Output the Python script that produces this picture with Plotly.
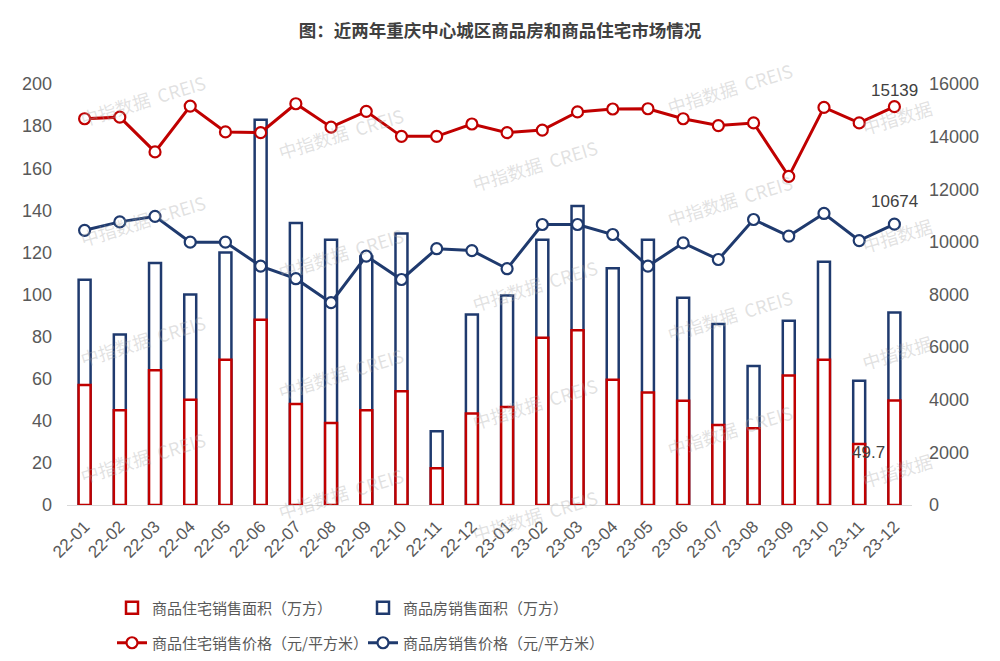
import plotly.graph_objects as go

months = ["22-01","22-02","22-03","22-04","22-05","22-06","22-07","22-08","22-09","22-10","22-11","22-12",
          "23-01","23-02","23-03","23-04","23-05","23-06","23-07","23-08","23-09","23-10","23-11","23-12"]
# 商品住宅销售面积（万方）
res_area = [57, 45, 64, 50, 69, 88, 48, 39, 45, 54, 17.5, 43.5,
            46.5, 79.5, 83, 59.5, 53.5, 49.5, 38, 36.5, 61.5, 69, 29, 49.7]
# 商品房销售面积（万方）
all_area = [107, 81, 115, 100, 120, 183, 134, 126, 118, 129, 35, 90.5,
            99.5, 126, 142, 112.5, 126, 98.5, 86, 66, 87.5, 115.5, 59, 91.5]
# 商品住宅销售价格（元/平方米）
res_price = [14680, 14740, 13420, 15160, 14180, 14150, 15250, 14360, 14960, 14010, 14010, 14480,
             14150, 14250, 14940, 15050, 15060, 14680, 14420, 14520, 12490, 15110, 14520, 15139]
# 商品房销售价格（元/平方米）
all_price = [10440, 10760, 10970, 9990, 9990, 9080, 8600, 7690, 9460, 8570, 9740, 9670,
             8980, 10660, 10660, 10280, 9080, 9960, 9330, 10850, 10220, 11080, 10050, 10674]

RED = "#C00000"
BLUE = "#1F3A6E"
GRAY = "#595959"
NUMFONT = "Liberation Sans, Arial, sans-serif"
CJK = "Noto Sans CJK SC"

W, H = 1000, 661
L, R, T, B = 67, 88, 84, 156
pw, ph = W - L - R, H - T - B

fig = go.Figure()
fig.add_trace(go.Bar(x=months, y=all_area, name="商品房销售面积（万方）", width=0.34,
                     marker=dict(color="white", line=dict(color=BLUE, width=2.5)),
                     legend="legend", legendrank=2))
fig.add_trace(go.Bar(x=months, y=res_area, name="商品住宅销售面积（万方）", width=0.34,
                     marker=dict(color="white", line=dict(color=RED, width=2.5)),
                     legend="legend", legendrank=1))
fig.add_trace(go.Scatter(x=months, y=res_price, yaxis="y2", mode="lines+markers",
                         name="商品住宅销售价格（元/平方米）",
                         line=dict(color=RED, width=3),
                         marker=dict(symbol="circle", size=11, color="white", line=dict(color=RED, width=2.2)),
                         legend="legend2", legendrank=1))
fig.add_trace(go.Scatter(x=months, y=all_price, yaxis="y2", mode="lines+markers",
                         name="商品房销售价格（元/平方米）",
                         line=dict(color=BLUE, width=3),
                         marker=dict(symbol="circle", size=11, color="white", line=dict(color=BLUE, width=2.2)),
                         legend="legend2", legendrank=2))

annotations = []
# data labels
lblfont = dict(family=NUMFONT, size=17, color="#404040")
annotations.append(dict(x=months[-1], y=res_price[-1], xref="x", yref="y2", text=str(res_price[-1]),
                        showarrow=False, yanchor="bottom", yshift=5, font=lblfont))
annotations.append(dict(x=months[-1], y=all_price[-1], xref="x", yref="y2", text=str(all_price[-1]),
                        showarrow=False, yanchor="bottom", yshift=11, font=lblfont))
annotations.append(dict(x=months[-1], y=res_area[-1] / 2, xref="x", yref="y", text=str(res_area[-1]),
                        showarrow=False, xshift=-26, font=lblfont))

# watermarks (pixel centers in the page)
wm_full = [(143, 100), (143, 220), (143, 340), (143, 457),
           (341, 133), (341, 253), (341, 373), (341, 493),
           (535, 165), (535, 285), (535, 403), (535, 515),
           (730, 88), (730, 200), (730, 315), (730, 430)]
wm_part = [(897, 117), (897, 235), (897, 352), (897, 470)]
wmfont = dict(family=CJK, size=18, color="rgba(170,170,170,0.35)")
for pts, txt in ((wm_full, "中指数据  CREIS"), (wm_part, "中指数据")):
    for (px, py) in pts:
        annotations.append(dict(x=(px - L) / pw, y=(H - B - py) / ph, xref="paper", yref="paper",
                                xanchor="center", yanchor="middle", text=txt,
                                showarrow=False, textangle=-17, font=wmfont))

fig.update_layout(
    width=W, height=H,
    margin=dict(l=L, r=R, t=T, b=B, autoexpand=False),
    paper_bgcolor="white", plot_bgcolor="white",
    barmode="overlay",
    title=dict(text="<b>图：近两年重庆中心城区商品房和商品住宅市场情况</b>", x=0.5, xanchor="center",
               y=1 - 31 / 661, yanchor="middle", font=dict(family=CJK, size=17.5, color="#404040")),
    xaxis=dict(type="category", range=[-0.5, 23.5], tickangle=-45,
               tickfont=dict(family=NUMFONT, size=17, color=GRAY),
               showline=True, linecolor="#D9D9D9", linewidth=1, showgrid=False, ticks="",
               ticklabelstandoff=4),
    yaxis=dict(range=[0, 200], dtick=20, tickfont=dict(family=NUMFONT, size=18, color=GRAY),
               showgrid=False, zeroline=False, ticks="", ticklabelstandoff=14),
    yaxis2=dict(range=[0, 16000], dtick=2000, overlaying="y", side="right", tickformat="d",
                tickfont=dict(family=NUMFONT, size=18, color=GRAY),
                showgrid=False, zeroline=False, ticks="", ticklabelstandoff=16),
    legend=dict(orientation="h", xref="container", yref="container", x=0.112, y=1 - 608 / 661,
                xanchor="left", yanchor="middle", entrywidth=206, entrywidthmode="pixels",
                font=dict(family=CJK, size=15, color=GRAY), bgcolor="rgba(0,0,0,0)"),
    legend2=dict(orientation="h", xref="container", yref="container", x=0.112, y=1 - 643 / 661,
                 xanchor="left", yanchor="middle", entrywidth=206, entrywidthmode="pixels",
                 font=dict(family=CJK, size=15, color=GRAY), bgcolor="rgba(0,0,0,0)"),
    annotations=annotations,
    showlegend=True,
)

fig.write_html("out.html")
